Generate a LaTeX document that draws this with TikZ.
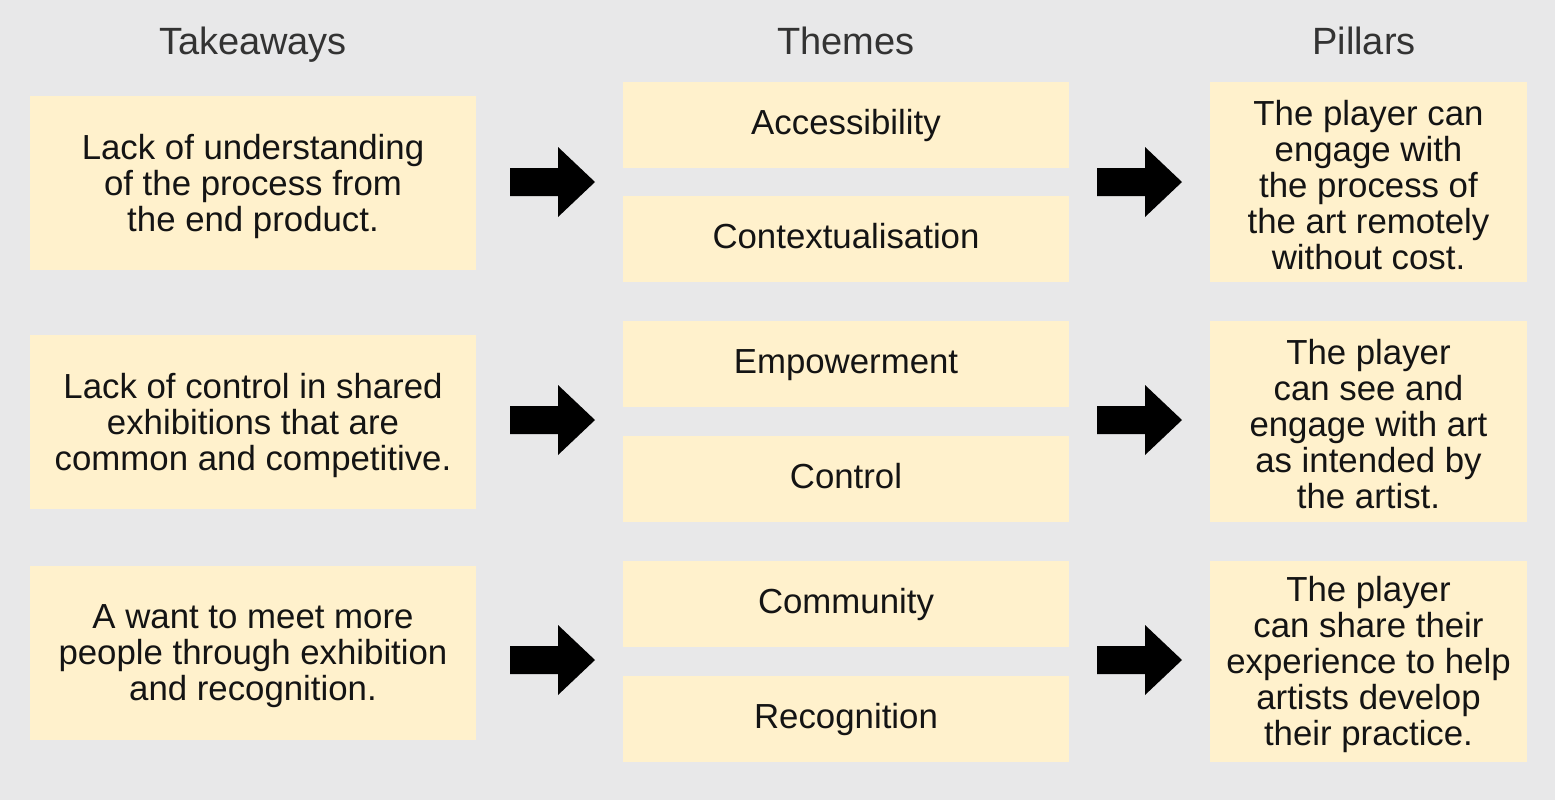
\documentclass[tikz,border=0pt]{standalone}
\usepackage{fontspec}
\setmainfont{Liberation Sans}
\begin{document}
\begin{tikzpicture}[x=0.5pt,y=-0.5pt,
  box/.style={fill=boxc,draw=none,align=center,text=txt,font=\fontsize{17.4}{18}\selectfont,inner sep=0},
  lbl/.style={align=center,text=txt,font=\fontsize{17.4}{18}\selectfont,inner sep=0},
  hdr/.style={text=hdrc,font=\fontsize{19}{20}\selectfont,anchor=base},
  arr/.style={fill=black}]
\definecolor{bg}{HTML}{E8E8E9}
\definecolor{boxc}{HTML}{FFF1CC}
\definecolor{txt}{HTML}{141414}
\definecolor{hdrc}{HTML}{333333}
\fill[bg] (0,0) rectangle (1555,800);
\useasboundingbox (0,0) rectangle (1555,800);
\node[hdr] (h1) at (253,54) {Takeaways};
\node[hdr] (h2) at (846,54) {Themes};
\node[hdr] (h3) at (1364,54) {Pillars};
% takeaways
\node[box,minimum width=223pt,minimum height=87pt] (t1) at (253,183) {};
\node[lbl] (t1l) at (253,186) {Lack of understanding\\of the process from\\the end product.};
\node[box,minimum width=223pt,minimum height=87pt] (t2) at (253,422) {};
\node[lbl] (t2l) at (253,425) {Lack of control in shared\\exhibitions that are\\common and competitive.};
\node[box,minimum width=223pt,minimum height=87pt] (t3) at (253,653) {};
\node[lbl] (t3l) at (253,656) {A want to meet more\\people through exhibition\\and recognition.};
% themes
\foreach \n/\y/\t in {a/125/Accessibility,b/239/Contextualisation,c/364/Empowerment,d/479/Control,e/604/Community,f/719/Recognition}{
  \node[box,minimum width=223pt,minimum height=43pt] (th\n) at (846,\y) {};
  \node[lbl] (th\n l) at (846,\y+2) {\strut\t};}
% pillars
\node[box,minimum width=158.5pt,minimum height=100pt] (p1) at (1368.5,182) {};
\node[lbl] (p1l) at (1368.5,185) {The player can\\engage with\\the process of\\the art remotely\\without cost.};
\node[box,minimum width=158.5pt,minimum height=100.5pt] (p2) at (1368.5,421.5) {};
\node[lbl] (p2l) at (1368.5,424.5) {The player\\can see and\\engage with art\\as intended by\\the artist.};
\node[box,minimum width=158.5pt,minimum height=100.5pt] (p3) at (1368.5,661.5) {};
\node[lbl] (p3l) at (1368.5,664.5) {The player\\can share their\\experience to help\\artists develop\\their practice.};
% arrows
\foreach \x in {510,1097}
  \foreach \y in {182,420,660}
    \fill[arr] (\x,\y-14) -- (\x+48,\y-14) -- (\x+48,\y-35) -- (\x+85,\y) -- (\x+48,\y+35) -- (\x+48,\y+14) -- (\x,\y+14) -- cycle;
\end{tikzpicture}
\end{document}
